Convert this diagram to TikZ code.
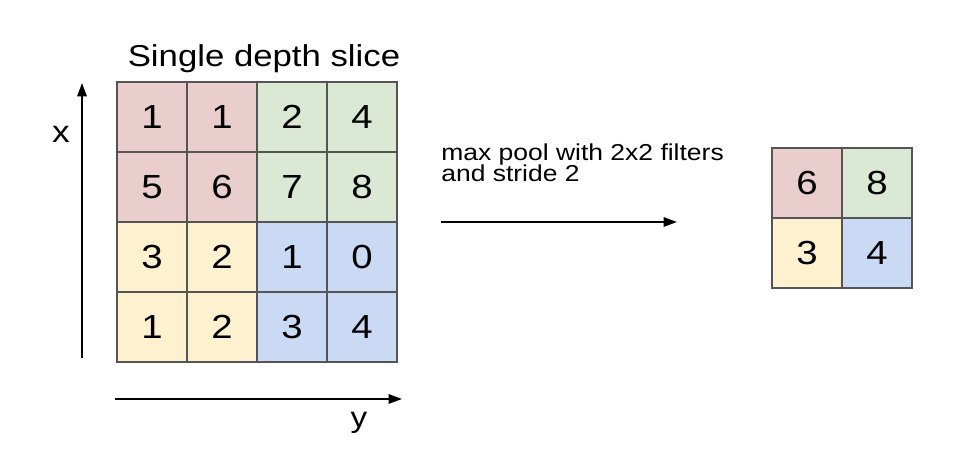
\documentclass[tikz,border=0pt]{standalone}
\usepackage{fontspec}
\setmainfont{Liberation Sans}[FakeStretch=1.15]
\usetikzlibrary{positioning, arrows.meta}
\definecolor{cellred}{HTML}{EACECE}
\definecolor{cellgreen}{HTML}{DAE8D4}
\definecolor{cellyellow}{HTML}{FDF1D0}
\definecolor{cellblue}{HTML}{CADAF5}
\definecolor{cellline}{HTML}{555555}

\begin{document}
\begin{tikzpicture}[x=0.02cm, y=-0.02cm,
  cell/.style={draw=cellline, line width=0.6pt, minimum size=1.4cm, inner sep=0pt,
    font=\fontsize{19}{22}\selectfont},
  axis/.style={line width=1.1pt, -{Triangle[length=0.27cm, width=0.19cm]}}]

\useasboundingbox (0,0) rectangle (961,465);

% Input slice
\node[anchor=base, font=\fontsize{17.2}{20}\selectfont] (title) at (264,67) {Single depth slice};
\foreach \r/\a/\b/\c/\d/\L/\R in {1/1/1/2/4/cellred/cellgreen, 2/5/6/7/8/cellred/cellgreen,
    3/3/2/1/0/cellyellow/cellblue, 4/1/2/3/4/cellyellow/cellblue}{
  \foreach \k/\v/\f in {1/\a/\L, 2/\b/\L, 3/\c/\R, 4/\d/\R}{
    \node[cell, fill=\f] (in-\r-\k) at ({117+35+70*(\k-1)}, {82+35+70*(\r-1)}) {\v};
  }
}

% Axes
\coordinate (xtail) at (82,358);
\coordinate (xhead) at (82,83);
\draw[axis] (xtail) -- (xhead);
\node[anchor=base, font=\fontsize{17.5}{20}\selectfont] (xlab) at (61,143) {x};
\coordinate (ytail) at (115,399);
\coordinate (yhead) at (402,399);
\draw[axis] (ytail) -- (yhead);
\node[anchor=base, font=\fontsize{16.5}{19}\selectfont] (ylab) at (359,428) {y};

% Pooling step
\node[anchor=base west, align=left, inner sep=0pt,
  font=\fontsize{13.1}{12.5}\selectfont] (op) at (441,182)
  {max pool with 2x2 filters\\and stride 2};
\coordinate (ptail) at (441,222);
\coordinate (phead) at (677,222);
\draw[axis] (ptail) -- (phead);

% Output
\foreach \r/\a/\b/\L/\R in {1/6/8/cellred/cellgreen, 2/3/4/cellyellow/cellblue}{
  \node[cell, fill=\L] (out-\r-1) at (807, {148+35+70*(\r-1)}) {\a};
  \node[cell, fill=\R] (out-\r-2) at (877, {148+35+70*(\r-1)}) {\b};
}
\end{tikzpicture}
\end{document}
